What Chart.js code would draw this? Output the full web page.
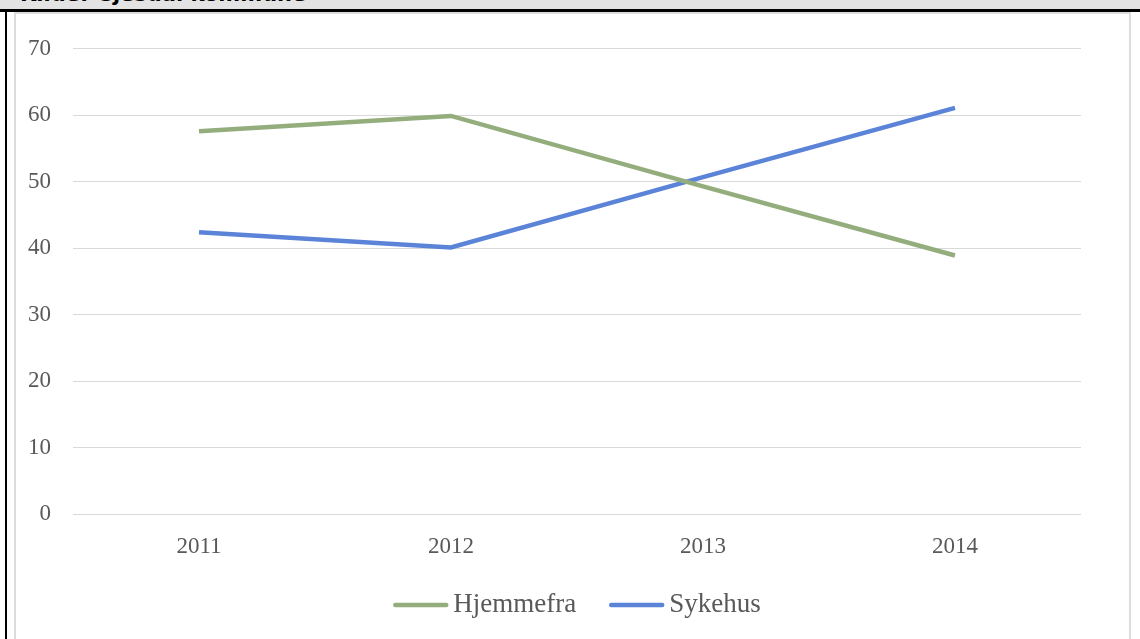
<!DOCTYPE html>
<html lang="no">
<head>
    <meta charset="UTF-8">
    <title>Hjemmefra / Sykehus</title>
    <script src="https://cdn.jsdelivr.net/npm/chart.js"></script>
    <style>
        body { margin: 0; background: #fff; overflow: hidden; }
        #kilde {
            position: absolute; left: 0; top: 0; width: 1140px; height: 9px;
            background: #e3e3e3; overflow: hidden;
        }
        #kilde span {
            position: absolute; left: 20px; top: -18px;
            font: bold 21px "DejaVu Sans", sans-serif; color: #000; white-space: nowrap;
        }
        #strek { position: absolute; left: 0; top: 9px; width: 1140px; height: 3px; background: #000; }
        #venstre { position: absolute; left: 5px; top: 9px; width: 2px; height: 630px; background: #000; }
        #ramme {
            position: absolute; left: 14px; top: 12px; width: 1113px; height: 640px;
            border: 2px solid #dcdcdc; border-bottom: none;
        }
        #boks { position: absolute; left: 16px; top: 13px; width: 1112px; height: 626px; }
    </style>
</head>
<body>
    <div id="kilde"><span>Kilde: Gjesdal kommune</span></div>
    <div id="strek"></div>
    <div id="venstre"></div>
    <div id="ramme"></div>
    <div id="boks"><canvas id="grafico"></canvas></div>

    <script>
        // Andel i prosent per år
        const aar = ['2011', '2012', '2013', '2014'];
        const hjemmefra = [57.6, 59.9, 49.3, 38.9];
        const sykehus = [42.4, 40.1, 50.7, 61.1];

        const gronn = '#94ad7c';
        const bla = '#5b84d8';
        const tekst = '#595959';
        const serif = '"Liberation Serif", serif';

        // Egen tegnforklaring: kort strek tett inntil teksten, sentrert under plottet
        const forklaring = {
            id: 'forklaring',
            afterDraw(chart) {
                const c = chart.ctx;
                const area = chart.chartArea;
                const strek = 55, luft = 5, mellom = 33;
                c.save();
                c.font = '27px ' + serif;
                c.textBaseline = 'middle';
                const sett = chart.data.datasets;
                const bredder = sett.map(d => strek + luft + c.measureText(d.label).width);
                const total = bredder.reduce((a, b) => a + b, 0) + mellom * (sett.length - 1);
                let x = (area.left + area.right) / 2 - total / 2;
                const y = 592;
                sett.forEach((d, i) => {
                    c.strokeStyle = d.borderColor;
                    c.lineWidth = 4.5;
                    c.lineCap = 'round';
                    c.beginPath();
                    c.moveTo(x + 2, y);
                    c.lineTo(x + strek - 2, y);
                    c.stroke();
                    c.fillStyle = tekst;
                    c.fillText(d.label, x + strek + luft, y);
                    x += bredder[i] + mellom;
                });
                c.restore();
            }
        };

        const ctx = document.getElementById('grafico').getContext('2d');
        new Chart(ctx, {
            type: 'line',
            data: {
                labels: aar,
                datasets: [{
                    label: 'Hjemmefra',
                    data: hjemmefra,
                    borderColor: gronn,
                    backgroundColor: gronn,
                    borderWidth: 4.5,
                    pointRadius: 0,
                    tension: 0,
                    fill: false
                }, {
                    label: 'Sykehus',
                    data: sykehus,
                    borderColor: bla,
                    backgroundColor: bla,
                    borderWidth: 4.5,
                    pointRadius: 0,
                    tension: 0,
                    fill: false
                }]
            },
            options: {
                responsive: true,
                maintainAspectRatio: false,
                animation: false,
                layout: { padding: { top: 35, left: 0, right: 47, bottom: 58 } },
                scales: {
                    x: {
                        offset: true,
                        grid: { display: false },
                        border: { display: false },
                        ticks: { color: tekst, font: { family: serif, size: 23 }, padding: 11 },
                        afterFit: s => { s.height = 67; }
                    },
                    y: {
                        min: 0, max: 70,
                        ticks: { stepSize: 10, color: tekst, font: { family: serif, size: 23 }, padding: 22 },
                        grid: { color: '#d9d9d9', lineWidth: 1, drawTicks: false },
                        border: { display: false },
                        afterFit: s => { s.width = 57; }
                    }
                },
                plugins: {
                    tooltip: { enabled: false },
                    legend: { display: false }
                }
            },
            plugins: [forklaring]
        });
    </script>
</body>
</html>
